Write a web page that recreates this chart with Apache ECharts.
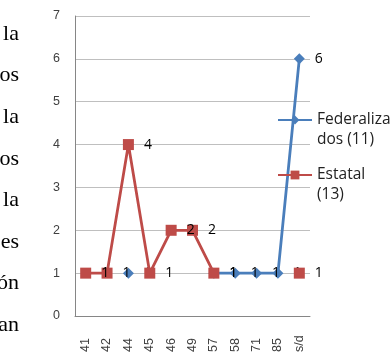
<!DOCTYPE html>
<html><head><meta charset="utf-8">
<script src="https://cdn.jsdelivr.net/npm/echarts@6/dist/echarts.min.js"></script>
<style>html,body{margin:0;padding:0;background:#fff}#c{width:392px;height:358px}</style>
</head><body><div id="c"></div>
<script>
const categories = ['41','42','44','45','46','49','57','58','71','85','s/d'];
const federalizados = [null,null,1,null,null,null,1,1,1,1,6];
const estatal = [1,1,4,1,2,2,1,null,null,null,1];
const yTicks = [0,1,2,3,4,5,6,7];
const sideText = ['la','os','la','os','la','es','ón','an'];
const sideTextBaseline = [41,82.6,124.2,165.8,207.4,249,290.6,332];

const chart = echarts.init(document.getElementById('c'), null, {renderer:'canvas'});
const lblStyle = {show:true, position:'right', distance:10, color:'#000', fontSize:14, fontFamily:'Open Sans'};
chart.setOption({
  animation:false,
  backgroundColor:'#fff',
  grid:{left:75, right:82, top:16, bottom:42},
  xAxis:{type:'category', data:categories, boundaryGap:true,
    axisLine:{lineStyle:{color:'#868686'}}, axisTick:{show:false},
    axisLabel:{rotate:90, align:'left', color:'#404040', fontSize:12.5, fontFamily:'Liberation Sans', margin:36}},
  yAxis:{type:'value', min:0, max:7, interval:1,
    axisLine:{show:true, lineStyle:{color:'#868686'}}, axisTick:{show:false},
    splitLine:{lineStyle:{color:'#BFBFBF'}},
    axisLabel:{color:'#404040', fontSize:12.5, fontFamily:'Liberation Sans', margin:15}},
  legend:{orient:'vertical', left:277, top:90, padding:0, itemWidth:34, itemHeight:11, itemGap:-5,
    data:['Federalizados (11)','Estatal (13)'],
    formatter: n => n === 'Federalizados (11)' ? '\nFederaliza\ndos (11)' : '\nEstatal\n(13)',
    textStyle:{fontSize:15.5, fontFamily:'Open Sans', color:'#222', lineHeight:20}},
  series:[
    {name:'Federalizados (11)', type:'line', data:federalizados, connectNulls:false,
     symbol:'diamond', symbolSize:11, showAllSymbol:true,
     itemStyle:{color:'#4A7EBB'}, lineStyle:{width:2.8, color:'#4A7EBB'}, label:lblStyle, z:2},
    {name:'Estatal (13)', type:'line', data:estatal, connectNulls:false,
     symbol:'rect', symbolSize:11, showAllSymbol:true,
     itemStyle:{color:'#BE4B48'}, lineStyle:{width:2.8, color:'#BE4B48'}, label:lblStyle, z:3}
  ],
  graphic: sideText.map((t,i)=>({type:'text', x:19, y:sideTextBaseline[i]-7,
    style:{text:t, fontSize:22, fontFamily:'Liberation Serif', fill:'#000', align:'right', verticalAlign:'middle'}}))
});
</script></body></html>
